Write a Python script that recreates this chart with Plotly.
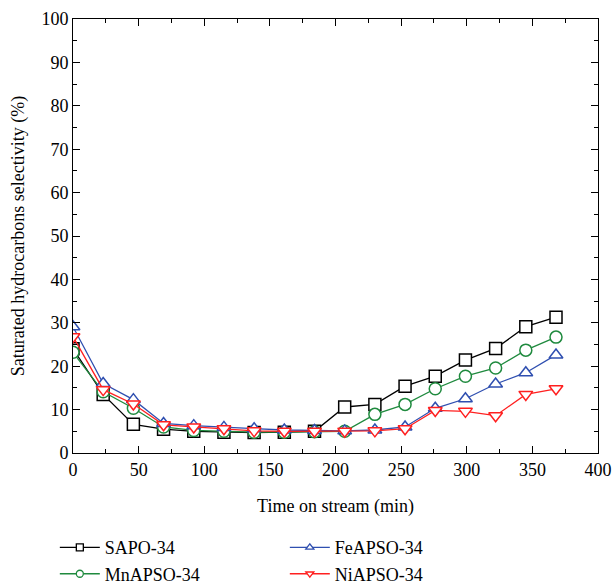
import plotly.graph_objects as go

time_min = [0, 23, 46, 69, 92, 115, 138, 161, 184, 207, 230, 253, 276, 299, 322, 345, 368]
sapo = [24.0, 13.5, 6.6, 5.5, 5.0, 4.8, 4.7, 4.8, 5.0, 10.6, 11.2, 15.4, 17.7, 21.4, 24.1, 29.1, 31.3]
mn = [23.2, 14.1, 10.3, 6.0, 5.2, 5.0, 4.8, 4.8, 4.9, 5.0, 8.9, 11.2, 14.8, 17.7, 19.6, 23.7, 26.7]
fe = [29.1, 16.0, 12.3, 6.8, 6.3, 5.9, 5.6, 5.3, 5.2, 5.1, 5.3, 6.0, 10.3, 12.5, 15.9, 18.5, 22.6]
ni = [26.8, 14.6, 11.3, 6.5, 6.0, 5.6, 5.1, 5.0, 5.0, 5.0, 5.1, 5.6, 9.8, 9.6, 8.6, 13.5, 14.8]

names = ["SAPO-34", "MnAPSO-34", "FeAPSO-34", "NiAPSO-34"]
colors = ["#000000", "#1f8a3e", "#2f4fb0", "#ff2020"]
symbols = ["square", "circle", "triangle-up", "triangle-down"]
ranks = [1, 3, 2, 4]
series = [sapo, mn, fe, ni]

fig = go.Figure()
for name, vals, c, s, r in zip(names, series, colors, symbols, ranks):
    fig.add_trace(go.Scatter(
        x=time_min, y=vals, name=name, mode="lines+markers",
        line=dict(color=c, width=1.3),
        marker=dict(symbol=s, size=12, color="white", line=dict(color=c, width=1.5)),
        legendgroup=name, showlegend=False,
    ))
    # legend-only entry with a smaller symbol (its single point lies outside the axes range)
    fig.add_trace(go.Scatter(
        x=[-1000], y=[-1000], name=name, mode="lines+markers",
        line=dict(color=c, width=1.3),
        marker=dict(symbol=s, size=7, color="white", line=dict(color=c, width=1.3)),
        legendgroup=name, showlegend=True, legendrank=r, hoverinfo="skip",
    ))

font_family = "Liberation Serif"
axis_common = dict(
    showline=True, linecolor="black", linewidth=1, mirror="ticks",
    ticks="inside", ticklen=7, tickcolor="black", showgrid=False, zeroline=False,
    automargin=False, ticklabeloverflow="allow",
    tickfont=dict(family=font_family, size=18, color="black"),
)
fig.update_xaxes(range=[0, 400], dtick=50, tick0=0,
                 minor=dict(ticks="inside", dtick=25, ticklen=4, tickcolor="black"),
                 title=dict(text="Time on stream (min)", font=dict(family=font_family, size=18, color="black"), standoff=20),
                 **axis_common)
fig.update_yaxes(range=[0, 100], dtick=10, tick0=0,
                 minor=dict(ticks="inside", dtick=5, ticklen=4, tickcolor="black"),
                 title=dict(text="Saturated hydrocarbons selectivity (%)", font=dict(family=font_family, size=18, color="black"), standoff=12),
                 **axis_common)

fig.update_layout(
    width=616, height=586,
    margin=dict(l=73, r=18, t=19, b=133),
    paper_bgcolor="white", plot_bgcolor="white",
    font=dict(family=font_family, size=18, color="black"),
    legend=dict(orientation="h", xref="container", yref="container",
                x=0.089, xanchor="left", y=0.097, yanchor="top",
                entrywidth=175, entrywidthmode="pixels", tracegroupgap=0,
                font=dict(family=font_family, size=18, color="black"),
                itemwidth=40),
    showlegend=True,
)

fig.write_html("out.html", config={"displayModeBar": False},
               post_script="document.body.style.margin='0';")
